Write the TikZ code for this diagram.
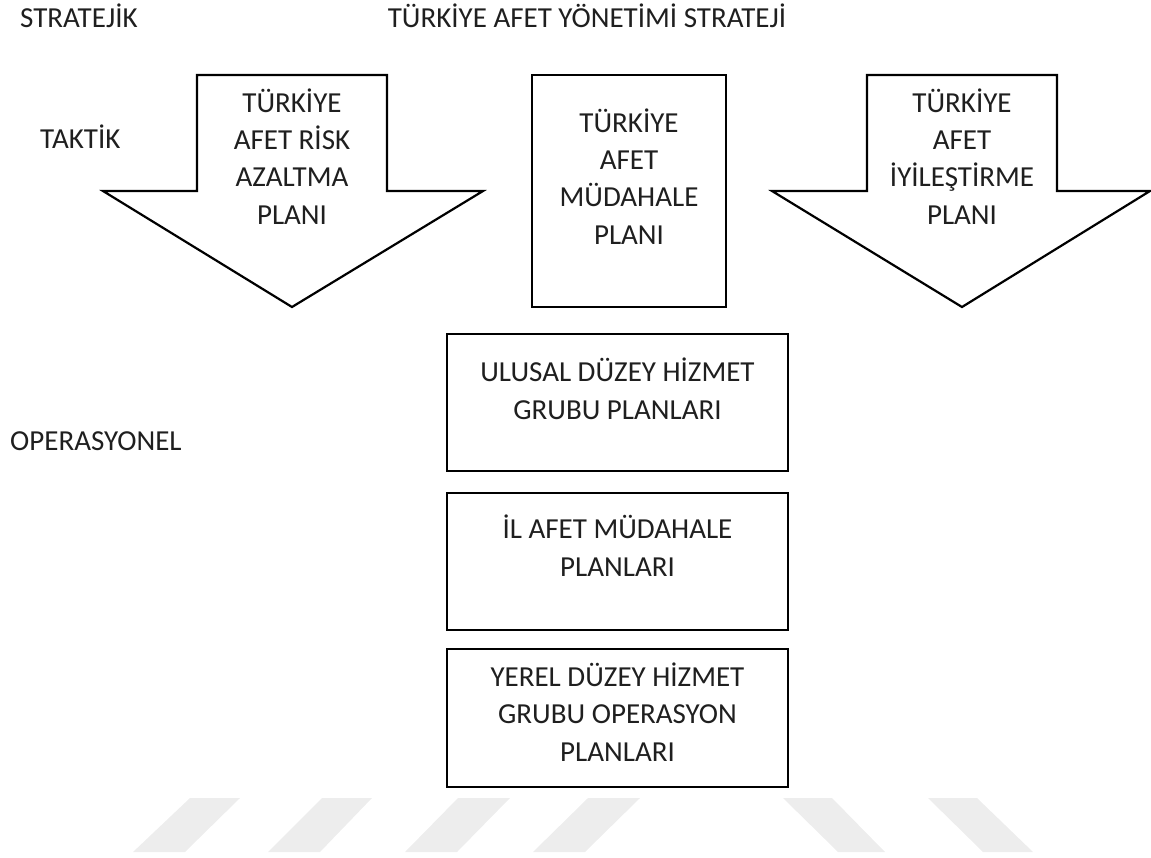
\documentclass[tikz,border=0pt]{standalone}
\usepackage{fontspec}
\setmainfont{Carlito}
\begin{document}
\begin{tikzpicture}[x=1pt,y=-1pt]
\tikzset{
  shapeline/.style={draw=black, line width=2.2pt, line join=miter, fill=white},
  boxnode/.style={draw=black, line width=2.2pt, rectangle, inner sep=0pt, fill=white},
  lbl/.style={font=\fontsize{29}{37.3}\selectfont, align=center, inner sep=0pt, text=black!88},
  wm/.style={fill=black!7, draw=none}
}
\useasboundingbox (0,0) rectangle (1151,857);
% watermark
\fill[wm] (133,852) -- (185,852) -- (240,798) -- (190,798) -- cycle;
\fill[wm] (268,852) -- (320,852) -- (372,798) -- (322,798) -- cycle;
\fill[wm] (405,852) -- (457,852) -- (510,798) -- (458,798) -- cycle;
\fill[wm] (533,852) -- (585,852) -- (640,798) -- (588,798) -- cycle;
\fill[wm] (783,798) -- (832,798) -- (885,852) -- (838,852) -- cycle;
\fill[wm] (928,798) -- (977,798) -- (1033,852) -- (983,852) -- cycle;
% level labels
\node[lbl, anchor=base west] (strat) at (20,27) {STRATEJİK};
\node[lbl, anchor=base] (tams) at (587,27) {TÜRKİYE AFET YÖNETİMİ STRATEJİ};
\node[lbl, anchor=base west] (taktik) at (40,148) {TAKTİK};
\node[lbl, anchor=base west] (oper) at (10,450) {OPERASYONEL};
% left arrow
\draw[shapeline] (197,75) -- (387,75) -- (387,191) -- (483,191) -- (292,307) -- (103,191) -- (197,191) -- cycle;
\node[lbl, anchor=base] (tarap) at (292,224) {TÜRKİYE\\AFET RİSK\\AZALTMA\\PLANI};
% right arrow
\draw[shapeline] (867,75) -- (1057,75) -- (1057,191) -- (1150,191) -- (962,307) -- (772,191) -- (867,191) -- cycle;
\node[lbl, anchor=base] (taip) at (962,224) {TÜRKİYE\\AFET\\İYİLEŞTİRME\\PLANI};
% middle box
\node[boxnode, minimum width=194pt, minimum height=232pt] (mid) at (629,191) {};
\node[lbl, anchor=base] (tamp) at (629,244) {TÜRKİYE\\AFET\\MÜDAHALE\\PLANI};
% lower boxes
\node[boxnode, minimum width=341pt, minimum height=137pt] (b1) at (617.5,402.5) {};
\node[lbl, anchor=base] (t1) at (617.5,419) {ULUSAL DÜZEY HİZMET\\GRUBU PLANLARI};
\node[boxnode, minimum width=341pt, minimum height=137pt] (b2) at (617.5,561.5) {};
\node[lbl, anchor=base] (t2) at (617.5,576) {İL AFET MÜDAHALE\\PLANLARI};
\node[boxnode, minimum width=341pt, minimum height=138pt] (b3) at (617.5,718) {};
\node[lbl, anchor=base] (t3) at (617.5,761) {YEREL DÜZEY HİZMET\\GRUBU OPERASYON\\PLANLARI};
\end{tikzpicture}
\end{document}
